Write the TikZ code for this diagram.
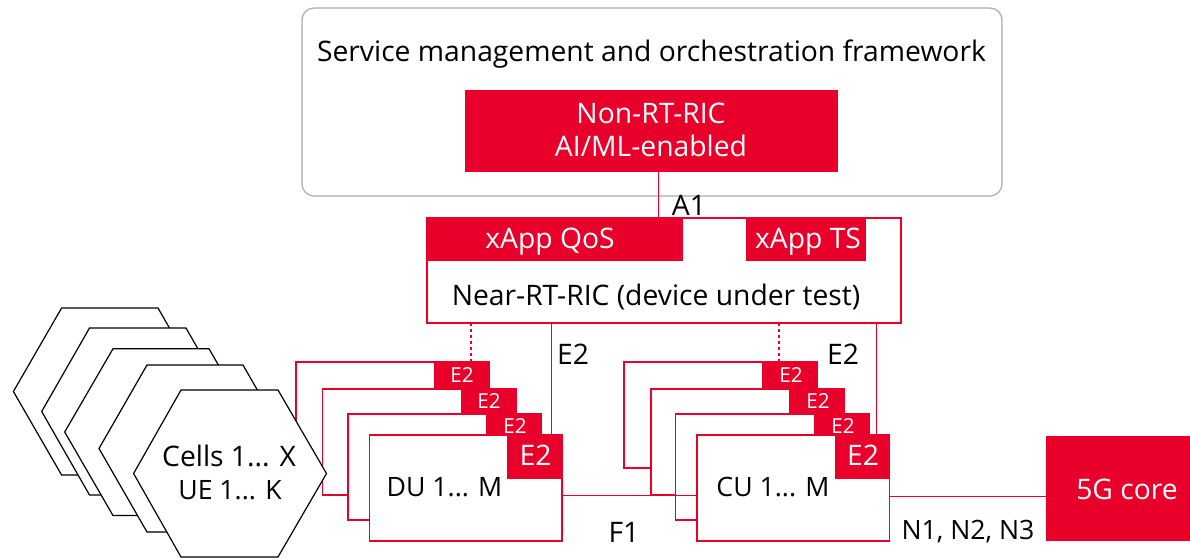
\documentclass[tikz,border=0pt]{standalone}
\usepackage{fontspec}
\setmainfont{Open Sans}
\definecolor{vred}{HTML}{E8002B}
\definecolor{vgray}{HTML}{A9ABAE}
\newcommand{\pxbox}[7][]{\node[#6,anchor=north west,inner sep=0pt,outer sep=0pt,minimum width={(#4-#2)*0.75pt},minimum height={(#5-#3)*0.75pt},#1] (#7) at (#2,#3) {};}
\tikzset{
  x=0.75pt,y=-0.75pt,
  redbox/.style={draw=vred,line width=0.9pt,fill=white},
  redfill/.style={fill=vred},
  redline/.style={draw=vred,line width=0.7pt},
  dashline/.style={draw=vred,line width=0.85pt,dash pattern=on 2.5pt off 2pt},
  hexa/.style={draw=black,line width=0.9pt,fill=white,line join=miter},
  lab/.style={inner sep=0pt,text=black,font=\fontsize{21.2}{25}\selectfont},
  nlab/.style={lab,font=\fontsize{20}{24}\selectfont},
  wlab/.style={lab,text=white},
  slab/.style={inner sep=0pt,text=white,font=\fontsize{15.5}{18}\selectfont},
}
\begin{document}
\begin{tikzpicture}
\useasboundingbox (0,0) rectangle (1190,558);
\coordinate (xa) at (658.5,0);
\coordinate (xd) at (471,0);
\coordinate (xs) at (551,0);
\coordinate (xcd) at (779,0);
\coordinate (xcs) at (876,0);
\coordinate (yn) at (0,496.5);
% top frame
\node[draw=vgray,line width=0.9pt,fill=white,rounded corners=9pt,anchor=north west,inner sep=0pt,outer sep=0pt,minimum width={700*0.75pt},minimum height={188*0.75pt}] (smo) at (302,8) {};
\node[lab] (smotext) at (651.5,54) {Service management and orchestration framework};
\pxbox{465}{90}{838}{172}{redfill}{nonrt}
\node[wlab] (nonrta) at (651,113) {Non-RT-RIC};
\node[wlab] (nonrtb) at (651,146) {AI/ML-enabled};
% near RT RIC
\pxbox{427}{218}{901}{323}{redbox}{near}
\pxbox{427}{218}{683}{261}{redfill}{qos}
\pxbox{746}{218}{866}{261}{redfill}{ts}
\draw[redline] (near.north west) -- (near.north east);
\node[wlab] (qostext) at (550,241.5) {xApp QoS};
\node[wlab] (tstext) at (808,241.5) {xApp TS};
\node[lab] (neartext) at (656,296.5) {Near-RT-RIC (device under test)};
\draw[redline] (nonrt.south -| xa) -- (near.north -| xa);
\node[lab] (a1) at (689,205) {A1};
% DU stack
\pxbox{296}{362}{489}{468}{redbox}{du1}
\pxbox{434}{362}{489}{389}{redfill}{due1}
\pxbox{322.5}{389}{516}{495}{redbox}{du2}
\pxbox{461}{389}{516}{414}{redfill}{due2}
\pxbox{348}{414}{541}{520}{redbox}{du3}
\pxbox{486}{414}{541}{435}{redfill}{due3}
% CU stack
\pxbox{624}{362}{817}{468}{redbox}{cu1}
\pxbox{762}{362}{817}{389}{redfill}{cue1}
\pxbox{651}{389}{844}{495}{redbox}{cu2}
\pxbox{789}{389}{844}{414}{redfill}{cue2}
\pxbox{675.5}{414}{869}{520}{redbox}{cu3}
\pxbox{814}{414}{869}{435}{redfill}{cue3}
% connectors behind front cards
\pxbox{369.5}{435}{562}{541}{redbox}{du4}
\draw[redline] (du4.east |- du2.south) -- (697,495) coordinate (f1end);
\pxbox{697}{435}{889.5}{541}{redbox}{cu4}
\pxbox{507}{435}{562}{479}{redfill}{due4}
\pxbox{835}{435}{890}{479}{redfill}{cue4}
\pxbox{1046}{436}{1190}{541}{redfill}{core}
\draw[redline] (near.south -| xs) -- (due4.north -| xs);
\draw[dashline] (near.south -| xd) -- (due1.north -| xd);
\draw[redline] (near.south -| xcs) -- (cue4.north -| xcs);
\draw[dashline] (near.south -| xcd) -- (cue1.north -| xcd);
\draw[redline] (cu4.east |- yn) -- (core.west |- yn);
% hexagons
\draw[hexa] (13.4,391.5) -- (61.6,308) -- (158,308) -- (206,391.5) -- (158,475) -- (61.6,475) -- cycle;
\draw[hexa] (41.7,411.5) -- (89.5,328) -- (186,328) -- (234,411.5) -- (186,495) -- (89.5,495) -- cycle;
\draw[hexa] (64.7,432) -- (113,348.7) -- (209,348.7) -- (257,432) -- (209,515.5) -- (113,515.5) -- cycle;
\draw[hexa] (99,448.5) -- (147,365) -- (243,365) -- (291,448.5) -- (243,532) -- (147,532) -- cycle;
\draw[hexa] (133.6,473.5) -- (181,390) -- (278,390) -- (326.5,473.5) -- (278,557) -- (181,557) -- cycle;
\node[lab] (cells) at (229,456) {Cells 1... X};
\node[nlab] (ue) at (230,490) {UE 1... K};
% labels
\node[slab] (e2a) at (462,375.5) {E2};
\node[slab] (e2b) at (489,401.5) {E2};
\node[slab] (e2c) at (515,426) {E2};
\node[wlab] (e2d) at (535.5,455) {E2};
\node[slab] (e2e) at (791,375.5) {E2};
\node[slab] (e2f) at (818,401.5) {E2};
\node[slab] (e2g) at (843,426) {E2};
\node[wlab] (e2h) at (863,455) {E2};
\node[lab] (e2i) at (573,354) {E2};
\node[lab] (e2j) at (843,354) {E2};
\node[nlab] (du) at (444.5,487) {DU 1... M};
\node[nlab] (cu) at (773,487) {CU 1... M};
\node[lab] (f1) at (624,532) {F1};
\node[nlab] (nnn) at (968,532) {N1, N2, N3};
\node[wlab] (coretext) at (1127,489) {5G core};
\end{tikzpicture}
\end{document}
